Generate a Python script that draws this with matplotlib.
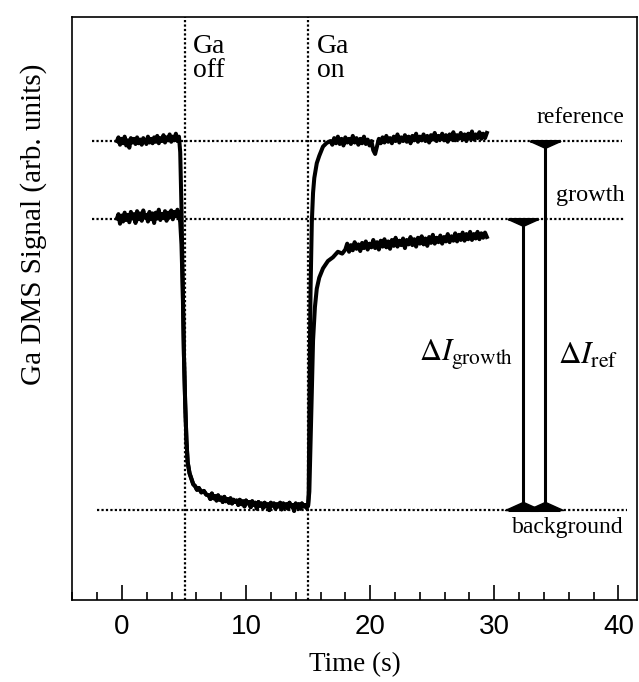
import numpy as np
import matplotlib
matplotlib.use("Agg")
import matplotlib.pyplot as plt
from matplotlib.ticker import MultipleLocator, FixedLocator
from matplotlib.path import Path
from matplotlib.markers import MarkerStyle

plt.rcParams['mathtext.fontset'] = 'stix'

# ---------------- data ----------------
level_reference = 1.0
level_growth = 0.79
level_background = 0.0
t_ga_off = 5.05
t_ga_on = 15.0

# before Ga off (t = -0.4 .. 4.6)
ref_pre = [1.000, 1.010, 0.990, 1.006, 0.994, 1.012, 0.988, 1.002, 0.982, 1.008, 0.996,
           1.006, 0.992, 1.010, 0.994, 1.004, 0.990, 1.008, 1.000, 0.992, 1.012, 0.996,
           1.006, 0.994, 1.010, 0.998, 1.014, 0.994, 1.008, 1.000, 1.016, 0.996, 1.010,
           1.002, 1.018, 0.998, 1.012, 1.002, 1.020, 1.000, 1.012]
growth_pre = [0.790, 0.802, 0.776, 0.798, 0.782, 0.806, 0.786, 0.800, 0.780, 0.808, 0.790,
              0.802, 0.778, 0.810, 0.788, 0.804, 0.784, 0.812, 0.792, 0.800, 0.782, 0.808,
              0.788, 0.804, 0.778, 0.806, 0.790, 0.814, 0.786, 0.802, 0.792, 0.810, 0.784,
              0.806, 0.794, 0.812, 0.788, 0.808, 0.796, 0.814, 0.800]

# start of the drop
t_drop = [4.7, 4.8, 4.9]
ref_drop = [0.97, 0.82, 0.62]
growth_drop = [0.78, 0.72, 0.60]

# shared decay (t = 5.0 .. 6.8) and background (t = 7.0 .. 15.0)
t_decay = [5.0, 5.1, 5.2, 5.3, 5.45, 5.6, 5.75, 5.9, 6.05, 6.2, 6.4, 6.6, 6.8]
v_decay = [0.42, 0.29, 0.19, 0.13, 0.10, 0.085, 0.07, 0.065, 0.055, 0.06, 0.048, 0.052, 0.042]
v_background = [0.040, 0.030, 0.045, 0.032, 0.038, 0.026, 0.040, 0.028, 0.034, 0.022,
                0.036, 0.024, 0.030, 0.020, 0.032, 0.018, 0.028, 0.022, 0.026, 0.014,
                0.028, 0.016, 0.024, 0.010, 0.026, 0.018, 0.022, 0.008, 0.024, 0.014,
                0.020, 0.004, 0.022, 0.012, 0.018, 0.006, 0.020, 0.010, 0.016, 0.000,
                0.020, 0.012, 0.018, 0.004, 0.016, 0.010, 0.020, 0.002, 0.018, 0.008,
                0.016, 0.004, 0.020, 0.010, 0.014, -0.002, 0.018, 0.008, 0.016, 0.004,
                0.018, 0.010, 0.014, 0.006, 0.012]

# rise after Ga on
t_rise_ref = [15.05, 15.1, 15.15, 15.2, 15.3, 15.4, 15.5, 15.7, 15.9, 16.2, 16.5]
v_rise_ref = [0.05, 0.25, 0.45, 0.60, 0.78, 0.86, 0.90, 0.94, 0.96, 0.985, 0.995]
ref_post = [1.000, 0.990, 1.008, 0.994, 1.012, 0.992, 1.006, 0.988, 1.010, 0.996,
            1.006, 0.992, 1.014, 0.996, 1.008, 0.990, 1.006, 0.994, 1.012, 0.992,
            1.004, 0.988, 1.000, 0.975, 0.965, 0.985, 1.006, 0.994, 1.010, 0.996,
            1.014, 0.998, 1.008, 0.994, 1.012, 1.000, 1.018, 0.996, 1.010, 1.000,
            1.016, 0.998, 1.012, 0.994, 1.014, 1.002, 1.020, 0.998, 1.012, 1.002,
            1.018, 1.000, 1.014, 0.996, 1.016, 1.004, 1.022, 1.000, 1.014, 1.004,
            1.020, 1.002, 1.016, 0.998, 1.018, 1.004, 1.024, 1.002, 1.016, 1.006,
            1.022, 1.004, 1.018, 1.000, 1.020, 1.006, 1.026, 1.004, 1.018, 1.008,
            1.024, 1.006, 1.020, 1.008, 1.022]  # t = 16.8 .. 29.4

t_rise_growth = [15.1, 15.2, 15.3, 15.4, 15.55, 15.7, 15.9, 16.2, 16.6, 17.0, 17.4, 17.75]
v_rise_growth = [0.05, 0.18, 0.32, 0.46, 0.55, 0.60, 0.63, 0.655, 0.675, 0.685, 0.70, 0.695]
growth_post = [0.706, 0.722, 0.700, 0.718, 0.704, 0.726, 0.708, 0.720, 0.702, 0.724,
               0.710, 0.728, 0.706, 0.722, 0.712, 0.732, 0.710, 0.726, 0.706, 0.730,
               0.714, 0.734, 0.712, 0.728, 0.708, 0.732, 0.716, 0.738, 0.714, 0.730,
               0.718, 0.736, 0.710, 0.732, 0.720, 0.740, 0.718, 0.734, 0.714, 0.738,
               0.722, 0.742, 0.720, 0.736, 0.716, 0.740, 0.724, 0.746, 0.722, 0.738,
               0.726, 0.744, 0.722, 0.740, 0.728, 0.748, 0.726, 0.742, 0.730, 0.750,
               0.728, 0.746, 0.732, 0.752, 0.730, 0.748, 0.734, 0.754, 0.732, 0.748,
               0.736, 0.754, 0.734, 0.750, 0.738, 0.752, 0.740]  # t = 18.0 .. 29.4

# Delta-I bars
t_bar_growth = 32.3
t_bar_ref = 34.1

xtick_major = [0, 10, 20, 30, 40]

# ---------------- assemble traces ----------------
t_pre = np.linspace(-0.4, 4.6, len(ref_pre))
t_bg = np.linspace(7.0, 15.0, len(v_background))
t_post_ref = np.linspace(16.8, 29.4, len(ref_post))
t_post_growth = np.linspace(18.0, 29.4, len(growth_post))

t_ref = np.concatenate([t_pre, t_drop, t_decay, t_bg, t_rise_ref, t_post_ref])
v_ref = np.concatenate([ref_pre, ref_drop, v_decay, v_background, v_rise_ref, ref_post])
t_gr = np.concatenate([t_pre, t_drop, t_decay, t_bg, t_rise_growth, t_post_growth])
v_gr = np.concatenate([growth_pre, growth_drop, v_decay, v_background, v_rise_growth, growth_post])

# ---------------- figure ----------------
fig = plt.figure(figsize=(6.39, 6.82), dpi=100)
ax = fig.add_axes([0.113, 0.120, 0.884, 0.855])
ax.set_xlim(-4.0, 41.5)
ax.set_ylim(-0.244, 1.336)

dot = dict(color='black', linestyle=(0, (1, 1)), linewidth=1.6)
ax.plot([-2.4, 40.3], [level_reference] * 2, **dot)
ax.plot([-2.4, 40.5], [level_growth] * 2, **dot)
ax.plot([-2.0, 40.7], [level_background] * 2, **dot)
ax.axvline(t_ga_off, **dot)
ax.axvline(t_ga_on, **dot)

ax.plot(t_gr, v_gr, color='black', linewidth=2.9)
ax.plot(t_ref, v_ref, color='black', linewidth=2.9)

# Delta I bars with wedge-shaped caps
wedge_down = MarkerStyle(Path([(-1, 0), (1, 0), (0, -0.45), (-1, 0)],
                              [Path.MOVETO, Path.LINETO, Path.LINETO, Path.CLOSEPOLY]))
wedge_up = MarkerStyle(Path([(-1, 0), (1, 0), (0, 0.45), (-1, 0)],
                            [Path.MOVETO, Path.LINETO, Path.LINETO, Path.CLOSEPOLY]))
for tb, top in [(t_bar_growth, level_growth), (t_bar_ref, level_reference)]:
    ax.errorbar([tb], [top / 2], yerr=[[top / 2], [top / 2]], fmt='none',
                ecolor='black', elinewidth=2.2, capsize=11, capthick=2.2)
    ax.plot([tb], [top], marker=wedge_down, markersize=22, color='black', linestyle='none')
    ax.plot([tb], [level_background], marker=wedge_up, markersize=26, color='black',
            linestyle='none')

serif = 'Liberation Serif'
ax.text(36.9, 1.065, 'reference', family=serif, fontsize=17, ha='center', va='center')
ax.text(37.7, 0.852, 'growth', family=serif, fontsize=17.5, ha='center', va='center')
ax.text(35.9, -0.048, 'background', family=serif, fontsize=17, ha='center', va='center')
ax.text(27.7, 0.42, r'$\Delta I_{\mathrm{growth}}$', fontsize=22, ha='center', va='center')
ax.text(37.6, 0.42, r'$\Delta I_{\mathrm{ref}}$', fontsize=22.5, ha='center', va='center')
ax.text(5.7, 1.29, 'Ga\noff', family=serif, fontsize=20, ha='left', va='top', linespacing=0.95)
ax.text(15.7, 1.29, 'Ga\non', family=serif, fontsize=20, ha='left', va='top', linespacing=0.95)

# axes styling
for s in ax.spines.values():
    s.set_linewidth(1.2)
ax.set_yticks([])
ax.xaxis.set_major_locator(FixedLocator(xtick_major))
ax.xaxis.set_minor_locator(MultipleLocator(2))
ax.tick_params(axis='x', which='major', direction='in', length=11, width=1.2, pad=10,
               labelsize=20)
ax.tick_params(axis='x', which='minor', direction='in', length=5.5, width=1.2)
for lab in ax.get_xticklabels():
    lab.set_family('Liberation Sans')
ax.set_xlabel('Time (s)', family=serif, fontsize=19.5, labelpad=9)
ax.set_ylabel('Ga DMS Signal (arb. units)', family=serif, fontsize=21)
ax.yaxis.set_label_coords(-0.045, 0.645)

fig.savefig('out.png', dpi=100)
